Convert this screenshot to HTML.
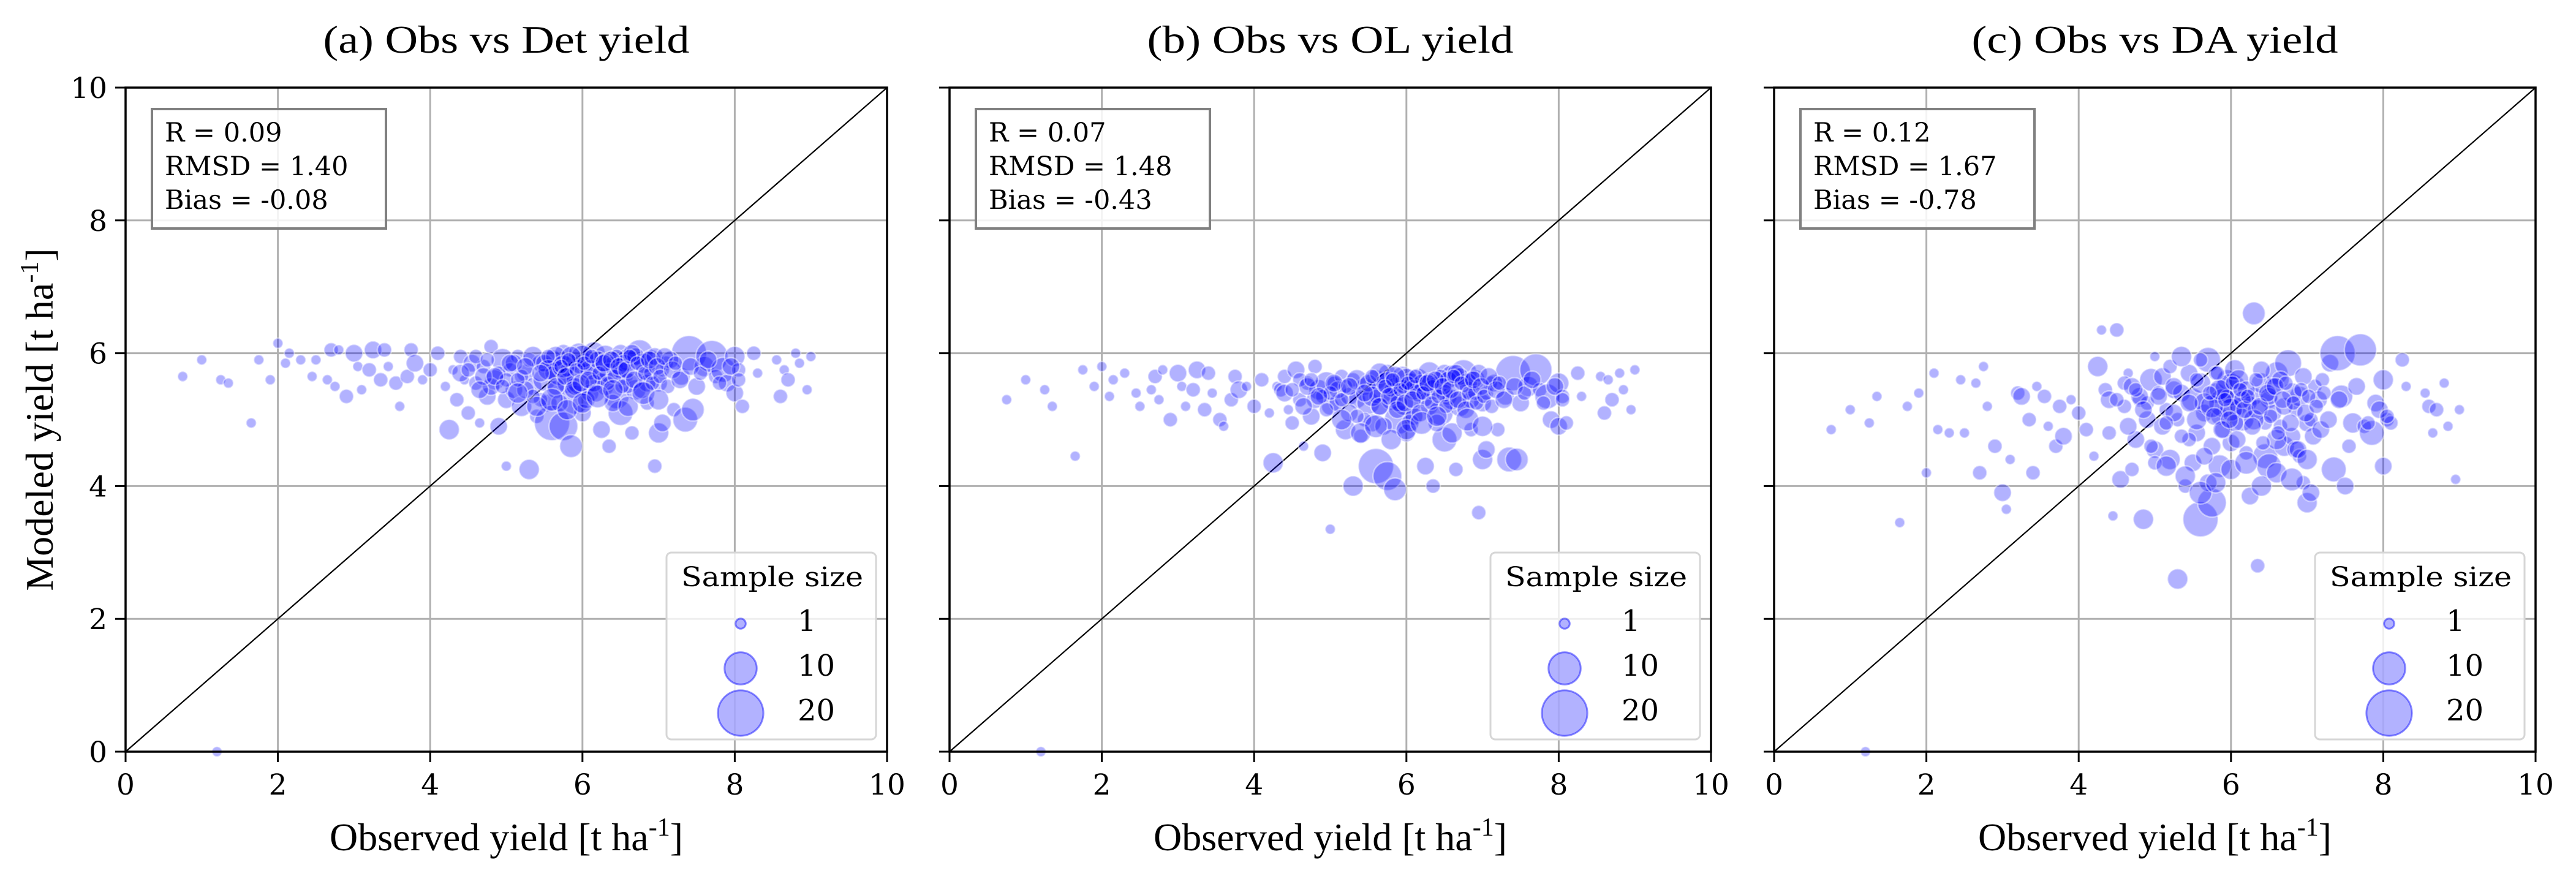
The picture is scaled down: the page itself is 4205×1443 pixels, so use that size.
<!DOCTYPE html>
<html><head><meta charset="utf-8">
<style>
html,body{margin:0;padding:0;background:#fff;}
svg{display:block;font-family:"DejaVu Serif","Liberation Serif",serif;}
.pal{font-family:"Liberation Serif","DejaVu Serif",serif;}
</style></head>
<body>
<svg id="fig" width="4205" height="1443" viewBox="0 0 4205 1443" xmlns="http://www.w3.org/2000/svg"></svg>
<script>
const titles = ["(a) Obs vs Det yield","(b) Obs vs OL yield","(c) Obs vs DA yield"];
const statsR = ["0.09","0.07","0.12"];
const statsRMSD = ["1.40","1.48","1.67"];
const statsBias = ["-0.08","-0.43","-0.78"];
const ticks = [0,2,4,6,8,10];
const legendSizes = [1,10,20];
const obs = [0.75,1.0,1.2,1.25,1.35,1.65,1.75,1.9,2.0,2.1,2.15,2.3,2.45,2.5,2.65,2.7,2.75,2.8,2.9,3.0,3.05,3.1,3.2,3.25,3.35,3.4,3.45,3.55,3.6,3.7,3.75,3.8,3.9,4.0,4.1,4.2,4.25,4.3,4.35,4.4,4.45,4.5,4.55,4.6,4.65,4.7,4.75,4.8,4.85,4.9,4.95,5.0,5.0,5.05,5.1,5.15,5.2,5.25,5.3,5.3,5.35,5.4,5.45,5.5,5.55,5.6,5.6,5.65,5.7,5.75,5.75,5.8,5.85,5.85,5.9,5.95,6.0,6.0,6.05,6.1,6.15,6.2,6.25,6.3,6.3,6.35,6.4,6.45,6.5,6.5,6.55,6.6,6.65,6.7,6.75,6.8,6.85,6.9,6.95,7.0,7.0,7.05,7.1,7.2,7.3,7.35,7.4,7.45,7.5,7.6,7.7,7.75,7.85,7.9,8.0,8.0,8.05,8.1,8.25,8.3,8.55,8.6,8.65,8.7,8.8,8.85,8.95,9.0,4.6,4.9,5.1,5.2,5.35,5.45,5.5,5.6,5.65,5.7,5.8,5.9,5.95,6.0,6.05,6.1,6.2,6.25,6.35,6.4,6.45,6.55,6.6,6.7,6.8,6.85,6.9,6.95,7.05,7.15,4.8,5.0,5.25,5.55,5.75,5.85,6.15,6.3,6.5,6.65,4.4,4.7,
 4.5,4.65,4.75,4.85,4.95,5.05,5.15,5.25,5.35,5.45,5.55,5.65,5.72,5.78,5.82,5.88,5.92,5.98,6.02,6.08,6.12,6.18,6.22,6.28,6.33,6.38,6.42,6.48,6.52,6.58,6.62,6.68,6.72,6.78,6.82,6.88,6.92,6.98,7.02,7.08,7.12,7.18,7.22,7.28,7.42,7.55,7.65,7.8,7.95,8.05,5.15,5.4,5.6,5.8,6.0,6.2,6.4,6.6,6.8,7.0];
const sampleN = [1,1,1,1,1,1,1,1,1,1,1,1,1,1,1,2,1,1,2,3,1,1,2,3,2,2,1,2,1,2,2,3,1,2,2,1,4,1,2,2,1,2,3,2,1,2,3,2,4,3,5,1,3,2,3,2,4,3,4,2,3,2,3,5,3,12,4,3,6,8,3,4,5,3,8,4,10,3,4,3,5,2,3,5,3,2,4,6,3,6,3,5,2,4,7,3,2,4,2,4,3,3,2,2,3,6,12,5,3,4,10,2,6,3,4,3,2,2,2,1,1,2,1,2,1,1,1,1,2,2,3,2,4,2,3,2,4,3,2,3,2,5,3,4,3,2,4,3,2,3,4,3,4,3,2,3,2,3,3,2,3,4,5,4,3,4,3,3,3,3,
 2,3,2,3,2,3,2,3,2,3,2,3,2,3,2,3,2,3,2,3,2,3,2,3,2,3,2,3,2,3,2,3,2,3,2,3,2,3,2,3,2,3,2,3,3,2,3,2,3,2,4,4,5,4,4,5,4,4,5,4];
const modDet = [5.65,5.9,0.0,5.6,5.55,4.95,5.9,5.6,6.15,5.85,6.0,5.9,5.65,5.9,5.6,6.05,5.5,6.05,5.35,6.0,5.8,5.45,5.75,6.05,5.6,6.05,5.8,5.55,5.2,5.65,6.05,5.85,5.6,5.75,6.0,5.5,4.85,5.75,5.3,5.95,5.6,5.1,5.85,5.55,4.95,5.8,5.35,6.1,5.6,4.9,5.9,4.3,5.3,5.75,5.45,5.95,5.2,5.7,4.25,5.9,5.5,5.05,5.85,5.6,5.25,4.95,5.9,5.45,5.7,4.9,6.0,5.55,4.6,5.85,5.3,6.0,5.6,5.1,5.85,5.4,6.0,5.7,4.85,5.95,5.5,4.6,5.8,5.35,6.0,5.1,5.65,5.9,4.8,5.45,6.0,5.7,5.25,5.9,4.3,4.8,5.55,4.95,5.85,5.15,5.65,5.0,6.0,5.15,5.5,5.8,5.95,5.65,5.75,5.55,5.95,5.4,5.75,5.2,6.0,5.7,5.9,5.35,5.75,5.6,6.0,5.85,5.45,5.95,5.95,5.7,5.85,5.65,5.95,5.3,5.85,5.7,5.95,5.25,5.75,5.5,5.8,5.95,5.3,5.75,5.9,5.6,5.7,5.25,5.95,5.85,5.55,5.95,5.85,5.55,5.7,5.95,5.75,5.9,5.5,5.6,5.45,5.75,5.8,5.95,5.55,5.85,5.75,6.0,5.7,5.65,
 5.75,5.45,5.9,5.65,5.5,5.85,5.6,5.8,5.35,5.7,5.95,5.5,5.8,5.65,5.9,5.45,5.75,5.55,5.85,5.6,5.95,5.4,5.7,5.85,5.55,5.9,5.65,5.8,5.5,5.75,5.95,5.6,5.85,5.45,5.7,5.9,5.55,5.8,5.65,5.95,5.5,5.75,5.85,5.6,5.8,5.7,5.9,5.55,5.8,5.6,5.4,5.2,5.3,5.15,5.25,5.35,5.45,5.2,5.4,5.3];
const modOL = [5.3,5.6,0.0,5.45,5.2,4.45,5.75,5.5,5.8,5.35,5.6,5.7,5.4,5.2,5.45,5.65,5.3,5.75,5.0,5.7,5.5,5.2,5.45,5.75,5.15,5.7,5.4,5.0,4.9,5.3,5.65,5.45,5.5,5.2,5.6,5.1,4.35,5.5,5.45,5.65,5.15,4.95,5.75,5.3,4.6,5.55,5.05,5.8,5.45,4.5,5.55,3.35,5.2,5.55,5.25,5.65,4.85,5.35,4.0,5.6,5.3,4.75,5.5,5.25,4.95,4.3,5.6,5.2,5.45,4.15,5.7,5.3,3.95,5.5,5.0,5.65,5.3,4.8,5.55,5.05,5.6,5.4,4.3,5.7,5.2,4.0,5.5,5.1,5.7,4.7,5.35,5.65,4.25,5.2,5.7,5.45,4.85,5.6,3.6,4.4,5.25,4.55,5.55,4.85,5.35,4.4,5.7,4.4,5.25,5.5,5.75,5.45,5.35,5.0,5.55,4.9,5.35,4.95,5.7,5.35,5.65,5.1,5.6,5.3,5.7,5.45,5.15,5.75,5.6,5.35,5.45,5.5,5.6,5.0,5.55,5.35,5.7,4.9,5.45,5.25,5.5,5.6,4.95,5.45,5.55,5.3,5.45,4.95,5.65,5.6,5.3,5.65,5.55,5.3,5.4,5.7,5.4,5.55,5.3,5.4,5.1,5.35,5.55,5.65,5.4,5.55,5.4,5.7,5.4,5.5,
 5.45,5.2,5.6,5.35,5.15,5.55,5.3,5.5,5.05,5.4,5.65,5.2,5.5,5.35,5.6,5.15,5.45,5.25,5.55,5.3,5.65,5.1,5.4,5.55,5.25,5.6,5.35,5.5,5.2,5.45,5.65,5.3,5.55,5.15,5.4,5.6,5.25,5.5,5.35,5.65,5.2,5.45,5.55,5.3,5.5,5.4,5.6,5.25,5.5,5.3,5.0,4.8,4.9,4.7,4.85,4.95,5.05,4.8,5.0,4.9];
const modDA = [4.85,5.15,0.0,4.95,5.35,3.45,5.2,5.4,4.2,5.7,4.85,4.8,5.6,4.8,5.55,4.2,5.8,5.2,4.6,3.9,3.65,4.4,5.4,5.35,5.0,4.2,5.5,5.35,4.9,4.6,5.2,4.75,5.3,5.1,4.85,4.45,5.8,6.35,5.45,4.8,3.55,6.35,4.1,5.2,5.7,4.25,4.7,5.3,3.5,5.0,5.6,5.95,4.55,5.4,4.9,5.15,4.4,5.45,2.6,5.0,5.4,4.0,5.7,5.3,4.8,3.5,5.55,5.1,5.9,3.75,4.6,5.4,4.3,5.05,5.25,5.6,5.45,4.65,5.75,5.2,5.0,4.5,3.85,6.6,5.35,2.8,5.55,4.45,5.3,4.3,5.1,5.7,4.9,4.6,5.85,4.75,5.15,5.35,4.05,3.75,4.95,3.9,5.5,5.6,5.85,4.25,6.0,5.35,4.0,4.95,6.05,4.9,4.8,5.25,5.6,4.3,5.0,4.95,5.9,5.5,5.4,5.2,4.8,5.15,5.55,4.9,4.1,5.15,5.55,5.25,5.65,5.8,5.95,4.7,4.35,5.9,5.25,4.05,5.7,4.85,5.35,5.15,4.95,5.6,5.45,5.25,5.15,5.75,4.95,5.5,4.7,5.2,5.4,4.55,4.45,5.65,5.0,5.3,5.35,4.35,5.1,5.0,5.2,5.45,5.3,5.0,5.35,5.6,5.3,5.5,
 5.3,4.9,5.45,5.15,4.6,5.35,4.95,5.5,4.75,5.25,5.6,4.45,5.4,5.05,5.7,4.85,5.3,5.0,5.55,4.7,5.45,5.15,5.35,4.9,5.6,5.2,4.65,5.4,5.05,5.5,4.8,5.3,5.55,4.95,5.25,4.55,5.45,5.1,5.35,4.75,5.2,4.85,5.4,5.0,5.3,4.6,5.5,4.95,5.15,5.05,4.3,4.15,3.9,4.05,4.25,4.35,4.0,4.2,4.1,4.4];
const models = [modDet, modOL, modDA];

const NS = "http://www.w3.org/2000/svg";
const svg = document.getElementById('fig');
function mk(tag, attrs, parent){ const e=document.createElementNS(NS,tag); for(const k in attrs) e.setAttribute(k,attrs[k]); (parent||svg).appendChild(e); return e; }

const panelLeft = [205,1550,2896];
const W = 1243, T = 143, H = 1084;
function rOf(n){ return 8.3*Math.sqrt(n); }

for (let p=0;p<3;p++){
  const L = panelLeft[p];
  const xs = v => L + v/10*W;
  const ys = v => T + H - v/10*H;
  const g = mk('g',{});
  
  
  ticks.forEach(t=>{
    const gv = mk('line',{x1:xs(t),x2:xs(t),y1:T,y2:T+H,stroke:'#b0b0b0','stroke-width':3},g);
    
    
    const gh = mk('line',{x1:L,x2:L+W,y1:ys(t),y2:ys(t),stroke:'#b0b0b0','stroke-width':3},g);
    
    
  });
  const d = mk('line',{x1:xs(0),y1:ys(0),x2:xs(10),y2:ys(10),stroke:'#000','stroke-width':2.2},g);
  
  
  const mod = models[p];
  for (let i=0;i<obs.length;i++){
    const c = mk('circle',{cx:xs(obs[i]),cy:ys(mod[i]),r:rOf(sampleN[i]),fill:'rgba(0,0,255,0.3)',stroke:'rgba(255,255,255,0.45)','stroke-width':2.5},g);
    
    
  }
  const fr = mk('rect',{x:L,y:T,width:W,height:H,fill:'none',stroke:'#000','stroke-width':3.5},g);
  
  
  ticks.forEach(t=>{
    const tx = mk('line',{x1:xs(t),x2:xs(t),y1:T+H,y2:T+H+17,stroke:'#000','stroke-width':3},g);
    
    
    const lbl = mk('text',{x:xs(t),y:T+H+70,'font-size':47,'text-anchor':'middle',fill:'#000'},g);
    lbl.textContent = t;
    
    
    const ty = mk('line',{x1:L-17,x2:L,y1:ys(t),y2:ys(t),stroke:'#000','stroke-width':3},g);
    
    
    if (p===0){
      const yl = mk('text',{x:L-30,y:ys(t)+17,'font-size':47,'text-anchor':'end',fill:'#000'},g);
      yl.textContent = t;
      
      
    }
  });
  const tt = mk('text',{x:L+W/2,y:86,'font-size':64,'text-anchor':'middle',fill:'#000','class':'pal',textLength:598,lengthAdjust:'spacingAndGlyphs'},g);
  tt.textContent = titles[p];
  
  
  const xl = mk('text',{x:L+W/2,y:1388,'font-size':64,'text-anchor':'middle',fill:'#000','class':'pal'},g);
  xl.innerHTML = 'Observed yield [t ha<tspan dy="-24" font-size="42">-1</tspan><tspan dy="24">]</tspan>';
  
  
  const sb = mk('rect',{x:L+43,y:178,width:382,height:195,fill:'rgba(255,255,255,0.85)',stroke:'#808080','stroke-width':4},g);
  
  
  const lines = ['R = '+statsR[p],'RMSD = '+statsRMSD[p],'Bias = '+statsBias[p]];
  lines.forEach((s,k)=>{
    const st = mk('text',{x:L+64,y:231+k*55,'font-size':43,fill:'#000'},g);
    st.textContent = s;
    
    
  });
  const lb = mk('rect',{x:L+883,y:902,width:342,height:305,rx:8,fill:'rgba(255,255,255,0.8)',stroke:'#d6d6d6','stroke-width':3},g);
  
  
  const lt = mk('text',{x:L+907,y:957,'font-size':44,fill:'#000',textLength:297,lengthAdjust:'spacingAndGlyphs'},g);
  lt.textContent = 'Sample size';
  
  
  const ey = [1018,1091,1164];
  legendSizes.forEach((n,k)=>{
    const lc = mk('circle',{cx:L+1004,cy:ey[k],r:rOf(n),fill:'rgba(0,0,255,0.3)',stroke:'rgba(0,0,255,0.45)','stroke-width':3},g);
    
    
    const ltx = mk('text',{x:L+1097,y:ey[k]+12,'font-size':48,fill:'#000'},g);
    ltx.textContent = n;
    
    
  });
}
const yl = mk('text',{x:0,y:0,'font-size':64,'text-anchor':'middle',fill:'#000','class':'pal',transform:'translate(86,685) rotate(-90)'});
yl.innerHTML = 'Modeled yield [t ha<tspan dy="-24" font-size="42">-1</tspan><tspan dy="24">]</tspan>';


</script>
</body></html>
